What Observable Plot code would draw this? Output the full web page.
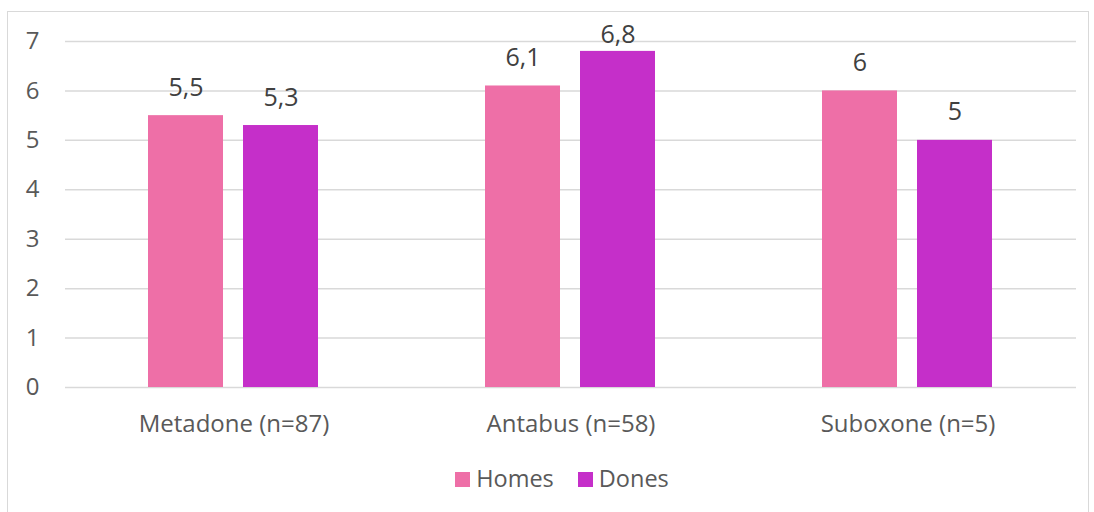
<!DOCTYPE html>
<html><head><meta charset="utf-8">
<script src="https://cdn.jsdelivr.net/npm/d3@7"></script>
<script src="https://cdn.jsdelivr.net/npm/@observablehq/plot@0.6"></script>
<style>
body{margin:0;background:#fff;font-family:"Open Sans",sans-serif;}
#wrap{position:relative;width:1094px;height:512px;overflow:hidden;}
#frame{position:absolute;left:7px;top:11px;width:1082px;height:530px;border:1.5px solid #d9d9d9;box-sizing:border-box;}
#chart{position:absolute;left:0;top:0;}
#legend{position:absolute;left:15px;top:462px;width:1094px;display:flex;justify-content:center;gap:24px;font-size:23.5px;line-height:32px;color:#595959;}
#legend span.sw{display:inline-block;width:15px;height:15px;margin-right:6px;vertical-align:0px;}
</style></head>
<body><div id="wrap"><div id="frame"></div><div id="chart"></div><div id="legend"></div></div>
<script>
const categories = ["Metadone (n=87)", "Antabus (n=58)", "Suboxone (n=5)"];
const series = ["Homes", "Dones"];
const homes = [5.5, 6.1, 6];
const dones = [5.3, 6.8, 5];
const colors = ["#ee6fa7", "#c52fc9"];
const yTicks = [0,1,2,3,4,5,6,7];

const data = [];
categories.forEach((c,i)=>{
  data.push({cat:c, s:"Homes", v:homes[i]});
  data.push({cat:c, s:"Dones", v:dones[i]});
});
const fmt = v => String(v).replace(".", ",");
// labels near the top of the axis are pulled closer to the bar (as in the source chart)
const nearTop = d => d.v > 6.5;

const plot = Plot.plot({
  width:1094, height:450,
  marginLeft:64, marginRight:17, marginTop:41, marginBottom:63,
  style:{fontFamily:"'Open Sans', sans-serif", fontSize:"24px", color:"#595959", background:"transparent"},
  fx:{domain:categories, padding:0, label:null},
  x:{domain:series, paddingInner:0.2083, paddingOuter:0.863, axis:null},
  y:{domain:[0,7], label:null, axis:null},
  color:{domain:series, range:colors},
  marks:[
    Plot.gridY(yTicks, {stroke:"#d9d9d9", strokeOpacity:1, strokeWidth:1.5}),
    Plot.axisY(yTicks, {tickSize:0, tickPadding:26, fontSize:24, fill:"#595959", label:null}),
    Plot.axisFx({anchor:"bottom", tickSize:0, tickPadding:27, fontSize:24, fill:"#595959", label:null}),
    Plot.barY(data, {fx:"cat", x:"s", y:"v", fill:"s"}),
    Plot.text(data, {filter:d=>!nearTop(d), fx:"cat", x:"s", y:"v", text:d=>fmt(d.v), dy:-28, fontSize:25, fill:"#404040"}),
    Plot.text(data, {filter:nearTop, fx:"cat", x:"s", y:"v", text:d=>fmt(d.v), dy:-16, fontSize:25, fill:"#404040"})
  ]
});
document.getElementById("chart").appendChild(plot);

const lg = document.getElementById("legend");
series.forEach((s,i)=>{
  const d = document.createElement("div");
  d.innerHTML = `<span class="sw" style="background:${colors[i]}"></span>${s}`;
  lg.appendChild(d);
});
</script></body></html>
